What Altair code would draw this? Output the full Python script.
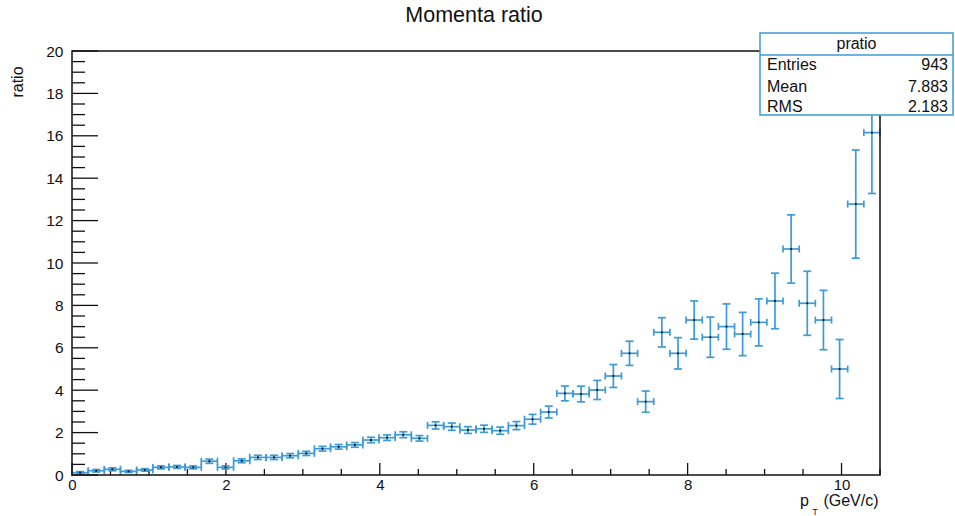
import altair as alt
import pandas as pd

# Histogram binning of p_T
N_BINS = 50
X_MIN, X_MAX = 0.0, 10.5
Y_MIN, Y_MAX = 0.0, 20.0

# Bin contents and their errors
ratio = [0.11, 0.20, 0.27, 0.17, 0.24, 0.36, 0.38, 0.36, 0.65, 0.36,
         0.67, 0.83, 0.83, 0.91, 1.02, 1.24, 1.33, 1.42, 1.65, 1.76,
         1.90, 1.73, 2.34, 2.28, 2.12, 2.18, 2.09, 2.33, 2.63, 2.97,
         3.85, 3.82, 4.01, 4.67, 5.74, 3.46, 6.73, 5.74, 7.31, 6.50,
         7.00, 6.65, 7.20, 8.21, 10.66, 8.10, 7.31, 5.00, 12.78, 16.15]
ratio_err = [0.05, 0.06, 0.07, 0.05, 0.06, 0.07, 0.07, 0.07, 0.10, 0.07,
             0.09, 0.10, 0.10, 0.10, 0.10, 0.11, 0.11, 0.11, 0.13, 0.13,
             0.14, 0.13, 0.17, 0.17, 0.16, 0.17, 0.17, 0.19, 0.23, 0.28,
             0.35, 0.37, 0.45, 0.54, 0.57, 0.50, 0.69, 0.74, 0.90, 0.95,
             1.07, 1.02, 1.11, 1.31, 1.61, 1.51, 1.40, 1.39, 2.55, 2.87]

# Axis tick values
x_major = [0, 2, 4, 6, 8, 10]
x_minor = [i * 0.5 for i in range(0, 22) if (i * 0.5) % 2 != 0]
y_major = [0, 2, 4, 6, 8, 10, 12, 14, 16, 18, 20]
y_minor = [i * 0.5 for i in range(0, 41) if (i * 0.5) % 2 != 0]

# Statistics box
stats_name = "pratio"
stats_labels = ["Entries", "Mean", "RMS"]
stats_values = ["943", "7.883", "2.183"]

title_text = "Momenta ratio"
y_title = "ratio"

BLUE = "#3d9bd6"
INK = "#111111"
FONT = "Liberation Sans"
W, H = 808, 424

bin_w = (X_MAX - X_MIN) / N_BINS
centers = [X_MIN + bin_w * (i + 0.5) for i in range(N_BINS)]
df = pd.DataFrame({"x": centers, "y": ratio, "e": ratio_err})
df["lo"] = df["y"] - df["e"]
df["hi"] = df["y"] + df["e"]
df["xl"] = df["x"] - bin_w / 2
df["xr"] = df["x"] + bin_w / 2

xs = alt.Scale(domain=[X_MIN, X_MAX], nice=False, zero=False)
ys = alt.Scale(domain=[Y_MIN, Y_MAX], nice=False, zero=False)
X_AX = alt.Axis(values=x_major, ticks=False, domain=False, grid=False, title=None,
                labelFont=FONT, labelFontSize=15, labelColor=INK, labelPadding=2,
                labelFlush=False, labelOverlap=False)
Y_AX = alt.Axis(values=y_major, ticks=False, domain=False, grid=False, title=None,
                labelFont=FONT, labelFontSize=15.5, labelColor=INK, labelPadding=9,
                labelFlush=False, labelOverlap=False)


def X(field):
    return alt.X(field, type="quantitative", scale=xs, axis=X_AX)


def Y(field):
    return alt.Y(field, type="quantitative", scale=ys, axis=Y_AX)


base = alt.Chart(df)
lw = 1.7

v_err = base.mark_rule(color=BLUE, strokeWidth=lw).encode(x=X("x"), y=Y("lo"), y2="hi")
h_err = base.mark_rule(color=BLUE, strokeWidth=lw).encode(x=X("xl"), x2="xr", y=Y("y"))
cap_top = base.mark_rule(color=BLUE, strokeWidth=lw, xOffset=-4, x2Offset=4).encode(
    x=X("x"), x2="x", y=Y("hi"))
cap_bot = base.mark_rule(color=BLUE, strokeWidth=lw, xOffset=-4, x2Offset=4).encode(
    x=X("x"), x2="x", y=Y("lo"))
cap_left = base.mark_rule(color=BLUE, strokeWidth=lw, yOffset=-3.5, y2Offset=3.5).encode(
    x=X("xl"), y=Y("y"), y2="y")
cap_right = base.mark_rule(color=BLUE, strokeWidth=lw, yOffset=-3.5, y2Offset=3.5).encode(
    x=X("xr"), y=Y("y"), y2="y")
markers = base.mark_square(size=3, color="black", opacity=1).encode(x=X("x"), y=Y("y"))

# Inward ticks along the bottom and left axes
xt_major = alt.Chart(pd.DataFrame({"t": x_major})).mark_rule(color=INK, strokeWidth=1.3).encode(
    x=X("t"), y=alt.value(H), y2=alt.value(H - 12))
xt_minor = alt.Chart(pd.DataFrame({"t": x_minor})).mark_rule(color=INK, strokeWidth=1.3).encode(
    x=X("t"), y=alt.value(H), y2=alt.value(H - 6))
yt_major = alt.Chart(pd.DataFrame({"t": y_major})).mark_rule(color=INK, strokeWidth=1.3).encode(
    y=Y("t"), x=alt.value(0), x2=alt.value(26))
yt_minor = alt.Chart(pd.DataFrame({"t": y_minor})).mark_rule(color=INK, strokeWidth=1.3).encode(
    y=Y("t"), x=alt.value(0), x2=alt.value(13))

one = alt.Chart(pd.DataFrame({"k": [0]}))

frame = one.mark_rect(fillOpacity=0, stroke=INK, strokeWidth=1.5).encode(
    x=alt.value(0), x2=alt.value(W), y=alt.value(0), y2=alt.value(H))

# Statistics box
box = one.mark_rect(fill="white", stroke=BLUE, strokeWidth=1.5).encode(
    x=alt.value(688), x2=alt.value(881), y=alt.value(-18), y2=alt.value(64))
box_div = one.mark_rule(color=BLUE, strokeWidth=1.5).encode(
    x=alt.value(688), x2=alt.value(881), y=alt.value(4))


def txt(s, x, y, size=16, align="left", baseline="middle", angle=0, color=INK):
    kw = dict(font=FONT, fontSize=size, align=align, baseline=baseline, color=color)
    if angle:
        kw["angle"] = angle
    return one.mark_text(**kw).encode(x=alt.value(x), y=alt.value(y), text=alt.value(s))


row_y = [13.5, 35.5, 55.5]
texts = [
    txt(stats_name, 784.5, -7, align="center"),
]
for lab, val, ry in zip(stats_labels, stats_values, row_y):
    texts.append(txt(lab, 695, ry))
    texts.append(txt(val, 876, ry, align="right"))

texts += [
    txt(title_text, 402, -29.5, size=21.5, align="center", baseline="alphabetic"),
    txt(y_title, -54, 31, size=16, align="center", angle=270),
    txt("p", 728, 455, size=16, baseline="alphabetic"),
    txt("T", 740.5, 463.5, size=8.5, baseline="alphabetic"),
    txt("(GeV/c)", 806.5, 455, size=16, align="right", baseline="alphabetic"),
]

chart = alt.layer(
    xt_minor, xt_major, yt_minor, yt_major,
    v_err, h_err, cap_top, cap_bot, cap_left, cap_right, markers,
    frame, box, box_div, *texts,
).properties(
    width=W, height=H,
    padding={"left": 72, "top": 51, "right": 75, "bottom": 41},
    autosize=alt.AutoSizeParams(type="none"),
    background="white",
).configure_view(stroke=None)

chart.save("out.html", embed_options={"renderer": "svg", "actions": False})
